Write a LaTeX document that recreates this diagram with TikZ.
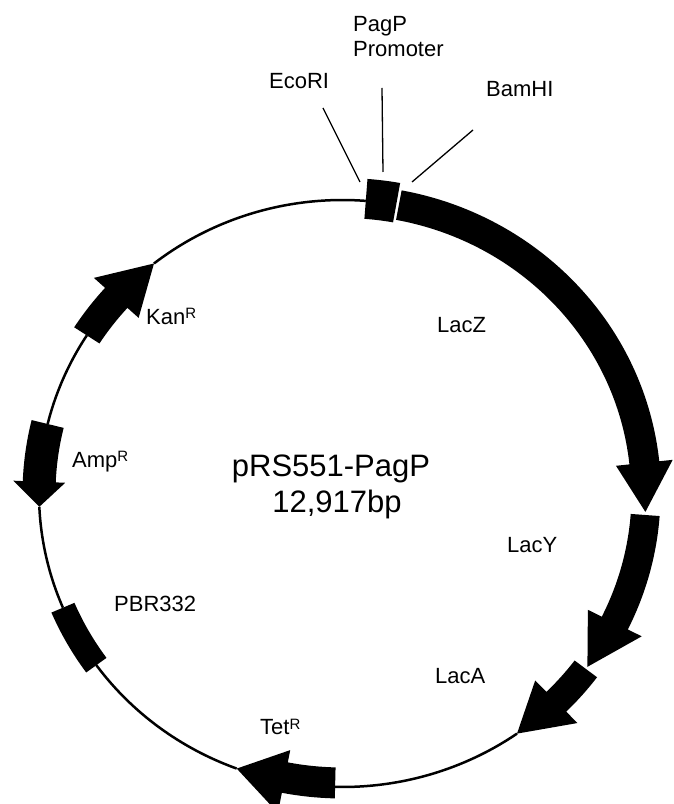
\documentclass[tikz,border=0pt]{standalone}
\usepackage{fontspec}
\setmainfont{Liberation Sans}
\def\cx{342.5}\def\cy{310.5}\def\rx{303.5}\def\ry{293.5}
% point on the (offset) backbone ellipse: name, parametric angle, radial offset
\newcommand\defpt[3]{\coordinate (#1) at ({\cx+(\rx+(#3))*cos(#2)},{\cy+(\ry+(#3))*sin(#2)});}
% gene arrow: name, start angle, head-base angle, tip angle, band half width, head half width, band offset
\newcommand\gene[7]{%
  \defpt{#1-so}{#2}{#7+#5}
  \defpt{#1-ei}{#3}{#7-#5}
  \defpt{#1-ho}{#3}{#6}
  \defpt{#1-hi}{#3}{-#6}
  \defpt{#1-tip}{#4}{0}
  \fill[genefill] (#1-so) arc[start angle=#2, end angle=#3, x radius={\rx pt+(#7+#5)*1pt}, y radius={\ry pt+(#7+#5)*1pt}]
     -- (#1-ho) -- (#1-tip) -- (#1-hi) -- (#1-ei)
     arc[start angle=#3, end angle=#2, x radius={\rx pt+(#7-#5)*1pt}, y radius={\ry pt+(#7-#5)*1pt}] -- cycle;}
% feature box: name, angle 1, angle 2, inner offset, outer offset
\newcommand\featbox[5]{%
  \defpt{#1-a}{#2}{#5}
  \defpt{#1-b}{#3}{#4}
  \fill[genefill] (#1-a) arc[start angle=#2, end angle=#3, x radius={\rx pt+(#5)*1pt}, y radius={\ry pt+(#5)*1pt}]
     -- (#1-b) arc[start angle=#3, end angle=#2, x radius={\rx pt+(#4)*1pt}, y radius={\ry pt+(#4)*1pt}] -- cycle;}
% backbone segment: name, angle 1, angle 2
\newcommand\bbone[3]{%
  \defpt{#1}{#2}{0}
  \draw[backbone] (#1) arc[start angle=#2, end angle=#3, x radius=\rx pt, y radius=\ry pt];}
\newcommand\supR{\raisebox{6pt}{\fontsize{15}{15}\selectfont R}}
\begin{document}
\begin{tikzpicture}[x=1pt,y=1pt,
  genefill/.style={fill=black},
  backbone/.style={line width=2.5pt},
  pointer/.style={line width=1.3pt},
  lab/.style={inner sep=0pt, anchor=base west, font=\fontsize{22}{26}\selectfont},
  title/.style={inner sep=0pt, anchor=base, font=\fontsize{31}{36}\selectfont}]
\useasboundingbox[fill=white] (0,0) rectangle (674,804);

% backbone
\bbone{bb1}{-91.4}{-54.9}
\bbone{bb2}{-144.2}{-110.4}
\bbone{bb3}{182.6}{202.9}
\bbone{bb4}{147.4}{166.3}
\bbone{bb5}{85.6}{128.4}

% features
\featbox{prombox}{79.8}{85.6}{-18}{22}
\featbox{pbrbox}{202.9}{215.8}{-12.5}{12.5}
\gene{lacZ}{79.3}{6.0}{-3.6}{15}{28.5}{0}
\gene{lacY}{-4.2}{-26.2}{-36.2}{14.5}{30}{0}
\gene{lacA}{-36.7}{-45.2}{-54.9}{14}{30}{0}
\gene{tet}{-91.4}{-101.1}{-110.4}{15.5}{32}{-4}
\gene{kan}{147.4}{138.2}{128.4}{15}{30}{0}
\gene{amp}{166.3}{177.7}{182.6}{16.5}{26}{0}

% labels
\node[lab] (pagp) at (353,772.3) {PagP};
\node[lab] (prom) at (353,747.3) {Promoter};
\node[lab] (eco) at (269,715.7) {EcoRI};
\node[lab] (bam) at (486,707.3) {BamHI};
\node[lab] (lacz) at (437,471.3) {LacZ};
\node[lab] (lacy) at (507,251) {LacY};
\node[lab] (laca) at (435,120) {LacA};
\node[lab] (kan) at (146,479) {Kan\supR};
\node[lab] (amp) at (72,336.7) {Amp\supR};
\node[lab] (pbr) at (114,192.3) {PBR332};
\node[lab] (tet) at (260,69) {Tet\supR};
\node[title] (name) at (331,327) {pRS551-PagP};
\node[title] (size) at (337,291) {12,917bp};

% pointer lines
\coordinate (ecoA) at (323,696); \coordinate (ecoB) at (360,622);
\coordinate (promA) at (382,716); \coordinate (promB) at (383,632);
\coordinate (bamA) at (473,674); \coordinate (bamB) at (412,622);
\draw[pointer] (ecoA) -- (ecoB);
\draw[pointer] (promA) -- (promB);
\draw[pointer] (bamA) -- (bamB);
\end{tikzpicture}
\end{document}
